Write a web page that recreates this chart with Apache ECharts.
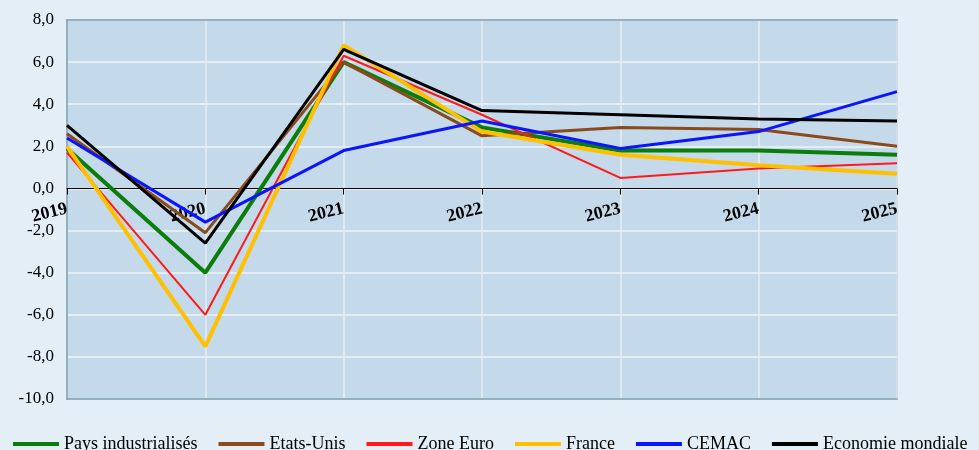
<!DOCTYPE html>
<html>
<head>
<meta charset="utf-8">
<script src="https://cdn.jsdelivr.net/npm/echarts@6/dist/echarts.min.js"></script>
<style>
  html, body { margin: 0; padding: 0; background: #e4eef6; }
  #chart { width: 979px; height: 450px; }
</style>
</head>
<body>
<div id="chart"></div>
<script>
var years = ['2019', '2020', '2021', '2022', '2023', '2024', '2025'];
var paysIndus = [1.9, -4.0, 6.0, 2.9, 1.8, 1.8, 1.6];
var etatsUnis = [2.6, -2.1, 6.0, 2.5, 2.9, 2.8, 2.0];
var zoneEuro = [1.7, -6.0, 6.3, 3.5, 0.5, 0.95, 1.2];
var france = [2.0, -7.5, 6.8, 2.7, 1.6, 1.1, 0.7];
var cemac = [2.4, -1.6, 1.8, 3.2, 1.9, 2.7, 4.6];
var mondiale = [3.0, -2.6, 6.6, 3.7, 3.5, 3.3, 3.2];

var serif = '"Liberation Serif", "DejaVu Serif", serif';
var frameColor = '#7f9fb2';

function mkSeries(name, data, color, width) {
    return {
        name: name,
        type: 'line',
        data: data,
        showSymbol: false,
        symbol: 'none',
        lineStyle: { color: color, width: width },
        itemStyle: { color: color },
        emphasis: { disabled: true }
    };
}

// axe vide qui sert juste à tracer un côté du cadre
function frameAxis(type, pos) {
    var ax = {
        type: type,
        position: pos,
        axisLine: { onZero: false, lineStyle: { color: frameColor, width: 1.5 } },
        axisTick: { show: false },
        axisLabel: { show: false },
        splitLine: { show: false }
    };
    if (type === 'category') {
        ax.data = years;
        ax.boundaryGap = false;
    } else {
        ax.min = -10;
        ax.max = 8;
    }
    return ax;
}

var option = {
    backgroundColor: '#e4eef6',
    animation: false,
    grid: {
        left: 67,
        right: 82,
        top: 20,
        bottom: 51,
        show: true,
        backgroundColor: '#c4d9ea',
        borderColor: frameColor,
        borderWidth: 1.5
    },
    legend: {
        left: 8,
        top: 430,
        width: 971,
        itemWidth: 46,
        itemHeight: 4,
        itemGap: 21,
        icon: 'rect',
        textStyle: { fontFamily: serif, fontSize: 18, color: '#000' }
    },
    xAxis: [{
        type: 'category',
        data: years,
        boundaryGap: false,
        offset: -210.5, // axe placé sur la ligne du zéro
        axisLine: { onZero: false, lineStyle: { color: '#000', width: 1 } },
        axisTick: { show: true, length: 6, alignWithLabel: true, lineStyle: { color: '#000' } },
        axisLabel: {
            rotate: 14,
            margin: 20,
            color: '#000',
            fontFamily: serif,
            fontWeight: 'bold',
            fontSize: 18
        },
        splitLine: { show: true, lineStyle: { color: '#e6edf3', width: 1.5 } }
    },
    frameAxis('category', 'bottom'),
    frameAxis('category', 'top')],
    yAxis: [{
        type: 'value',
        min: -10,
        max: 8,
        interval: 2,
        axisLine: { show: true, lineStyle: { color: frameColor, width: 1.5 } },
        axisTick: { show: false },
        axisLabel: {
            color: '#000',
            fontFamily: serif,
            fontSize: 17,
            margin: 13,
            formatter: function (v) { return v.toFixed(1).replace('.', ','); }
        },
        splitLine: { lineStyle: { color: '#eef3f7', width: 1.5 } }
    },
    frameAxis('value', 'right')],
    series: [
        mkSeries('Pays industrialisés', paysIndus, '#0a7d0a', 4),
        mkSeries('Etats-Unis', etatsUnis, '#8a4a1c', 3),
        mkSeries('Zone Euro', zoneEuro, '#ff1a1a', 2),
        mkSeries('France', france, '#ffc000', 4),
        mkSeries('CEMAC', cemac, '#0a14ff', 3),
        mkSeries('Economie mondiale', mondiale, '#000000', 3)
    ]
};

var myChart = echarts.init(document.getElementById('chart'));
myChart.setOption(option);
</script>
</body>
</html>
